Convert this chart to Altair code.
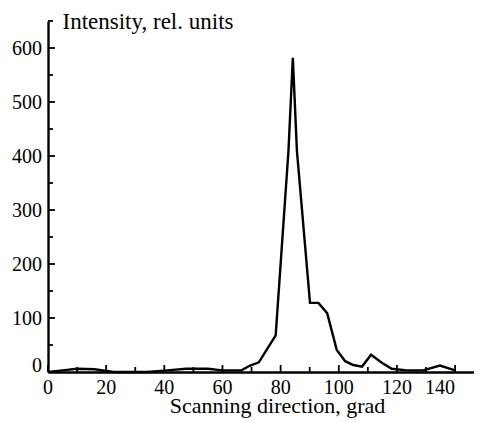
import altair as alt
import pandas as pd

# Data
angle = [0, 5, 10, 16, 22.5, 34, 41, 47.5, 55, 60, 66.5, 69.5, 72.5, 78.3, 82.7,
         84.2, 85.6, 90.1, 93, 96, 99.3, 102.2, 105, 108, 111.1, 114.8, 118.2,
         123.4, 129, 134.8, 140]
intensity = [0, 3, 6, 5, 0, 0, 3, 6, 6, 3, 3, 12, 18, 68, 410,
             582, 410, 128, 128, 109, 41, 20, 13, 10, 32, 17, 6,
             3, 3, 12, 3]

x_major = [0, 20, 40, 60, 80, 100, 120, 140]
x_minor = [10, 30, 50, 70, 90, 110, 130]
y_major = [0, 100, 200, 300, 400, 500, 600]
y_minor = [50, 150, 250, 350, 450, 550, 650]

W, H = 426, 351
FONT = "Liberation Serif"
LSIZE = 20

df = pd.DataFrame({"angle": angle, "intensity": intensity})
xs = alt.Scale(domain=[0, 146.5], nice=False, zero=False)
ys = alt.Scale(domain=[0, 650], nice=False)

x_axis = alt.Axis(
    values=x_major, ticks=False, grid=False, labels=False,
    domainColor="black", domainWidth=2.4,
    title="Scanning direction, grad", titleFont=FONT, titleFontSize=22,
    titleFontWeight="normal", titleColor="black", titleX=229, titleY=40,
    titleAlign="center", titleBaseline="alphabetic")
y_axis = alt.Axis(
    values=y_major, ticks=False, grid=False, labels=False,
    domainColor="black", domainWidth=2.4,
    title="Intensity, rel. units", titleFont=FONT, titleFontSize=23,
    titleFontWeight="normal", titleColor="black", titleAngle=0, titleX=14,
    titleY=7, titleAlign="left", titleBaseline="alphabetic")

line = alt.Chart(df).mark_line(color="black", strokeWidth=2.4).encode(
    x=alt.X("angle:Q", scale=xs, axis=x_axis),
    y=alt.Y("intensity:Q", scale=ys, axis=y_axis),
)

def xticks(vals, length):
    d = pd.DataFrame({"angle": vals})
    return alt.Chart(d).mark_rule(color="black", strokeWidth=1.8).encode(
        x=alt.X("angle:Q", scale=xs, axis=x_axis),
        y=alt.value(H), y2=alt.value(H - length))

def yticks(vals, length):
    d = pd.DataFrame({"intensity": vals})
    return alt.Chart(d).mark_rule(color="black", strokeWidth=1.8).encode(
        y=alt.Y("intensity:Q", scale=ys, axis=y_axis),
        x=alt.value(0), x2=alt.value(length))

def xlabels(vals, align):
    d = pd.DataFrame({"angle": vals})
    return alt.Chart(d).mark_text(
        font=FONT, fontSize=LSIZE, color="black", align=align,
        baseline="alphabetic").encode(
        x=alt.X("angle:Q", scale=xs, axis=x_axis),
        y=alt.value(H + 22),
        text=alt.Text("angle:Q"))

def ylabels(vals, dy):
    d = pd.DataFrame({"intensity": vals})
    return alt.Chart(d).mark_text(
        font=FONT, fontSize=LSIZE, color="black", align="right",
        baseline="alphabetic", dy=dy).encode(
        y=alt.Y("intensity:Q", scale=ys, axis=y_axis),
        x=alt.value(-6),
        text=alt.Text("intensity:Q"))

chart = alt.layer(
    line,
    xticks(x_major, 7), xticks(x_minor, 5),
    yticks(y_major, 7), yticks(y_minor, 5),
    xlabels(x_major[:-1], "center"), xlabels(x_major[-1:], "right"),
    ylabels(y_major[1:], 7), ylabels(y_major[:1], 0),
).properties(
    width=W, height=H,
    autosize=alt.AutoSizeParams(type="none"),
    padding={"left": 40, "top": 13, "right": 0, "bottom": 50},
).configure_view(stroke=None)

chart.save("out.html", embed_options={"renderer": "svg", "actions": False})
